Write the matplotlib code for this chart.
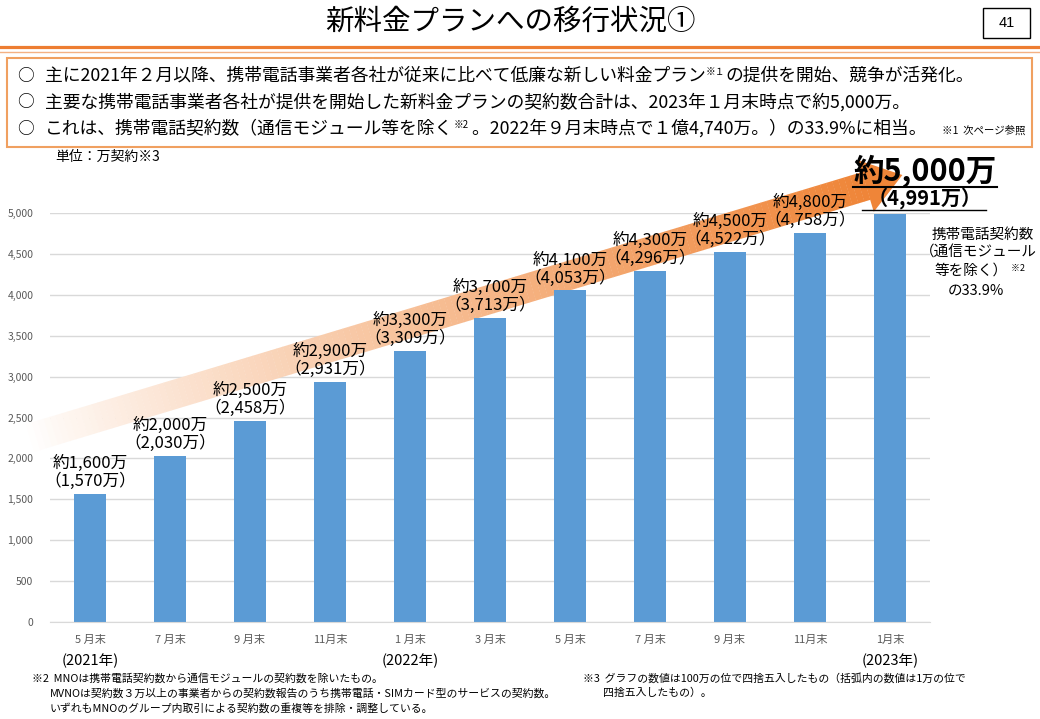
import matplotlib
matplotlib.use("Agg")
import matplotlib.pyplot as plt
import matplotlib.transforms as mtransforms
from matplotlib.patches import Polygon, Rectangle
from matplotlib.lines import Line2D
from matplotlib.ticker import StrMethodFormatter
import numpy as np

plt.rcParams['font.family'] = ['Noto Sans CJK JP', 'DejaVu Sans']

# ---------------- data ----------------
month_labels = ["5 月末", "7 月末", "9 月末", "11月末", "1 月末", "3 月末",
                "5 月末", "7 月末", "9 月末", "11月末", "1月末"]
values = [1570, 2030, 2458, 2931, 3309, 3713, 4053, 4296, 4522, 4758, 4991]
rounded = [1600, 2000, 2500, 2900, 3300, 3700, 4100, 4300, 4500, 4800, 5000]
year_positions = [0, 4, 10]
year_labels = ["(2021年)", "(2022年)", "(2023年)"]
yticks = list(range(0, 5001, 500))

title = "新料金プランへの移行状況①"
page_no = "41"
unit_label = "単位：万契約※3"
side_note = ["携帯電話契約数", "（通信モジュール", "等を除く）", "の33.9%"]
footnotes_left = ["※2  MNOは携帯電話契約数から通信モジュールの契約数を除いたもの。",
                  "MVNOは契約数３万以上の事業者からの契約数報告のうち携帯電話・SIMカード型のサービスの契約数。",
                  "いずれもMNOのグループ内取引による契約数の重複等を排除・調整している。"]
footnotes_right = ["※3  グラフの数値は100万の位で四捨五入したもの（括弧内の数値は1万の位で",
                   "四捨五入したもの）。"]

BAR = '#5B9BD5'
ORANGE = '#ED7D31'
GRAY = '#595959'

W, H = 1040, 719
fig = plt.figure(figsize=(W / 100, H / 100), dpi=100)
PX = mtransforms.Affine2D().scale(1 / W, -1 / H).translate(0, 1) + fig.transFigure
renderer = fig.canvas.get_renderer()


def runs_text(x, y, runs, color='black'):
    for s, size, dy in runs:
        t = fig.text(x, y + dy, s, transform=PX, fontsize=size, va='baseline',
                     ha='left', color=color)
        bb = t.get_window_extent(renderer)
        x += bb.width
    return x


# ---------------- header ----------------
fig.text(510, 22, title, transform=PX, fontsize=20.5, ha='center', va='center')
fig.add_artist(Rectangle((983, 8), 47, 30, transform=PX, fill=False,
                         edgecolor='black', lw=1))
fig.text(1006.5, 23, page_no, transform=PX, fontsize=10.5, ha='center', va='center',
         family='Liberation Sans')
fig.add_artist(Line2D([0, W], [46.5, 46.5], transform=PX, color=ORANGE, lw=2.3))
fig.add_artist(Line2D([0, W], [51.5, 51.5], transform=PX, color='#F4B183', lw=1))
fig.add_artist(Rectangle((7, 58), 1025, 89, transform=PX, fill=False,
                         edgecolor='#F0A060', lw=1.5))

BS = 12.8
bullet_lines = [
    [("主に2021年２月以降、携帯電話事業者各社が従来に比べて低廉な新しい料金プラン", BS, 0),
     ("※１", 7, -6), ("の提供を開始、競争が活発化。", BS, 0)],
    [("主要な携帯電話事業者各社が提供を開始した新料金プランの契約数合計は、2023年１月末時点で約5,000万。", BS, 0)],
    [("これは、携帯電話契約数（通信モジュール等を除く", BS, 0), ("※2", 7, -6),
     (" 。2022年９月末時点で１億4,740万。）の33.9%に相当。", BS, 0)],
]
for i, runs in enumerate(bullet_lines):
    yb = 81 + i * 26.5
    fig.text(25, yb, "○", transform=PX, fontsize=12, ha='center', va='baseline')
    runs_text(45, yb, runs)
fig.text(1025, 134, "※1  次ページ参照", transform=PX, fontsize=7.5, ha='right',
         va='baseline')

fig.text(55, 157, unit_label, transform=PX, fontsize=10, ha='left', va='center')

# ---------------- chart ----------------
ax = fig.add_axes([50 / W, 1 - 622 / H, 880 / W, 409 / H])
x = np.arange(len(values))
ax.bar(x, values, width=0.4, color=BAR, zorder=2)
ax.set_xlim(-0.5, len(values) - 0.5)
ax.set_ylim(0, 5000)
ax.set_yticks(yticks)
ax.yaxis.set_major_formatter(StrMethodFormatter('{x:,.0f}'))
ax.set_xticks(x)
ax.set_xticklabels(month_labels)
ax.tick_params(axis='both', length=0, colors=GRAY, labelsize=7.5)
ax.tick_params(axis='x', pad=9, labelsize=8)
ax.tick_params(axis='y', pad=12)
ax.grid(axis='y', color='#D9D9D9', lw=1)
ax.set_axisbelow(True)
for s in ['top', 'right', 'left']:
    ax.spines[s].set_visible(False)
ax.spines['bottom'].set_color('#D9D9D9')
ax.patch.set_visible(False)

# gradient arrow (decorative)
tail = np.array([30.0, 438.0])
head_base = np.array([866.0, 186.0])
L = np.linalg.norm(head_base - tail)
u = (head_base - tail) / L
n = np.array([-u[1], u[0]])
hw = 14.5
N = 140
c0 = np.array([1.0, 1.0, 1.0])
c1 = np.array(matplotlib.colors.to_rgb('#EF8538'))
for k in range(N):
    s0, s1 = k / N * L, (k + 1.05) / N * L
    pts = [tail + u * s0 + n * hw, tail + u * s1 + n * hw,
           tail + u * s1 - n * hw, tail + u * s0 - n * hw]
    f = ((k + 0.5) / N) ** 0.85
    col = c0 * (1 - f) + c1 * f
    ax.add_patch(Polygon(pts, closed=True, transform=PX, facecolor=col,
                         edgecolor='none', clip_on=False, zorder=1.5))
tip = head_base + u * 38
ax.add_patch(Polygon([head_base + n * 27, tip, head_base - n * 27], closed=True,
                     transform=PX, facecolor=c1, edgecolor='none', clip_on=False,
                     zorder=1.5))

# value labels
for i in range(len(values) - 1):
    ax.annotate(f"約{rounded[i]:,}万\n（{values[i]:,}万）", xy=(i, values[i]),
                xytext=(0, 4), textcoords='offset pixels', ha='center', va='bottom',
                fontsize=12, linespacing=1.05, zorder=3)
i = len(values) - 1
t_big = ax.annotate(f"約{rounded[i]:,}万", xy=(i, values[i]), xytext=(35, 42),
                    textcoords='offset pixels', ha='center', va='center',
                    fontsize=22, fontweight='bold', zorder=3)
t_small = ax.annotate(f"（{values[i]:,}万）", xy=(i, values[i]), xytext=(35, 16),
                      textcoords='offset pixels', ha='center', va='center',
                      fontsize=14.5, fontweight='bold', zorder=3)

# year labels
yt = mtransforms.blended_transform_factory(ax.transData, PX)
for p, lab in zip(year_positions, year_labels):
    ax.text(p, 661, lab, transform=yt, ha='center', va='center', fontsize=10.5)

# side note
fig.text(983, 235, side_note[0], transform=PX, fontsize=10.5, ha='center', va='center')
fig.text(1037, 253, side_note[1], transform=PX, fontsize=10.5, ha='right', va='center')
runs_text(934, 275, [(side_note[2], 10.5, 0), ("  ※2", 6.5, -4)])
fig.text(976, 291, side_note[3], transform=PX, fontsize=10.5, ha='center', va='center')

# footnotes
fig.text(32, 678, footnotes_left[0], transform=PX, fontsize=7.8, va='center')
fig.text(50, 693, footnotes_left[1], transform=PX, fontsize=7.8, va='center')
fig.text(50, 708, footnotes_left[2], transform=PX, fontsize=7.8, va='center')
fig.text(583, 678, footnotes_right[0], transform=PX, fontsize=7.8, va='center')
fig.text(603, 693, footnotes_right[1], transform=PX, fontsize=7.8, va='center')

# underlines for the headline value
fig.canvas.draw()
r = fig.canvas.get_renderer()
bb1 = t_big.get_window_extent(r)
bb2 = t_small.get_window_extent(r)
fig.add_artist(Line2D([bb1.x0, bb1.x1], [bb1.y0 + 1, bb1.y0 + 1],
                      transform=mtransforms.IdentityTransform(), color='black', lw=1.5))
fig.add_artist(Line2D([bb2.x0 - 6, bb2.x1 + 4], [bb2.y0 - 1, bb2.y0 - 1],
                      transform=mtransforms.IdentityTransform(), color='black', lw=1))

fig.savefig("out.png", dpi=100)
